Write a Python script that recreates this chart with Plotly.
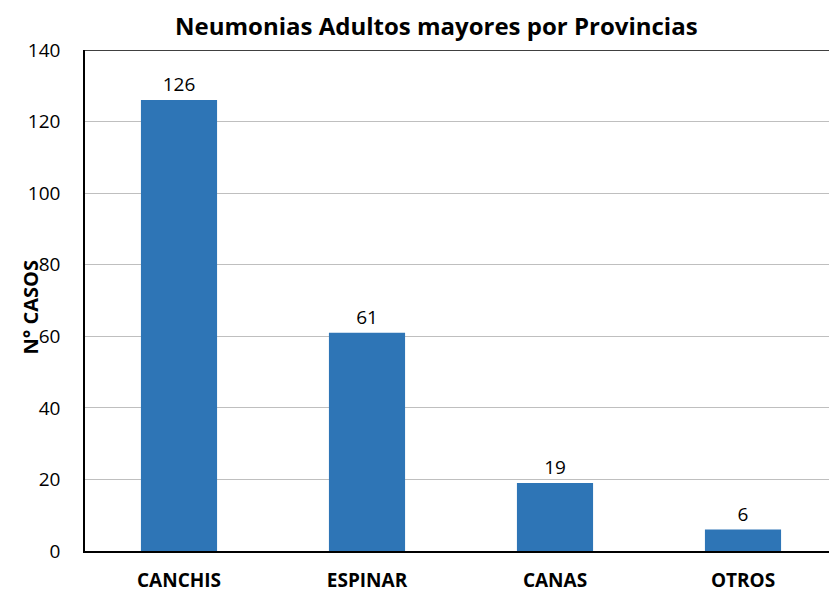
import plotly.graph_objects as go

categories = ["CANCHIS", "ESPINAR", "CANAS", "OTROS"]
values = [126, 61, 19, 6]
y_ticks = [0, 20, 40, 60, 80, 100, 120, 140]

font_family = "Open Sans, Noto Sans, sans-serif"

W, H = 829, 590
L, R, T, B = 77, 0, 42, 47
plot_w = W - L - R
plot_h = H - T - B

fig = go.Figure()
fig.add_trace(go.Bar(
    x=categories,
    y=values,
    marker=dict(color="#2E75B6", line=dict(width=0)),
    width=0.405,
    text=[str(v) for v in values],
    textposition="outside",
    textfont=dict(family=font_family, size=19, color="#000000"),
    cliponaxis=False,
))

fig.update_layout(
    width=W,
    height=H,
    margin=dict(l=L, r=R, t=T, b=B, autoexpand=False),
    paper_bgcolor="white",
    plot_bgcolor="white",
    showlegend=False,
    xaxis=dict(
        showline=True,
        linecolor="#000000",
        linewidth=1.5,
        ticks="",
        tickfont=dict(family=font_family, size=19, color="#000000", weight="bold"),
        ticklabelstandoff=11,
    ),
    yaxis=dict(
        range=[0, 140],
        tickvals=y_ticks,
        showline=True,
        linecolor="#000000",
        linewidth=1.5,
        showgrid=True,
        gridcolor="#BFBFBF",
        gridwidth=1,
        zeroline=False,
        ticks="",
        ticklabelstandoff=19,
        tickfont=dict(family=font_family, size=19, color="#000000"),
    ),
    shapes=[dict(
        type="line", xref="paper", yref="y",
        x0=0, x1=1, y0=140, y1=140,
        line=dict(color="#000000", width=1.5),
    )],
    annotations=[
        dict(
            text="<b>Neumonias Adultos mayores por Provincias</b>",
            xref="paper", yref="paper",
            x=(436 - 85) / plot_w, y=1 + 25 / plot_h,
            xanchor="center", yanchor="middle",
            showarrow=False,
            font=dict(family=font_family, size=24, color="#000000"),
        ),
        dict(
            text="<b>N° CASOS</b>",
            xref="paper", yref="paper",
            x=-55 / plot_w, y=0.5 - 7 / plot_h,
            xanchor="center", yanchor="middle",
            textangle=-90,
            showarrow=False,
            font=dict(family=font_family, size=20, color="#000000"),
        ),
    ],
)

fig.write_html("out.html")
